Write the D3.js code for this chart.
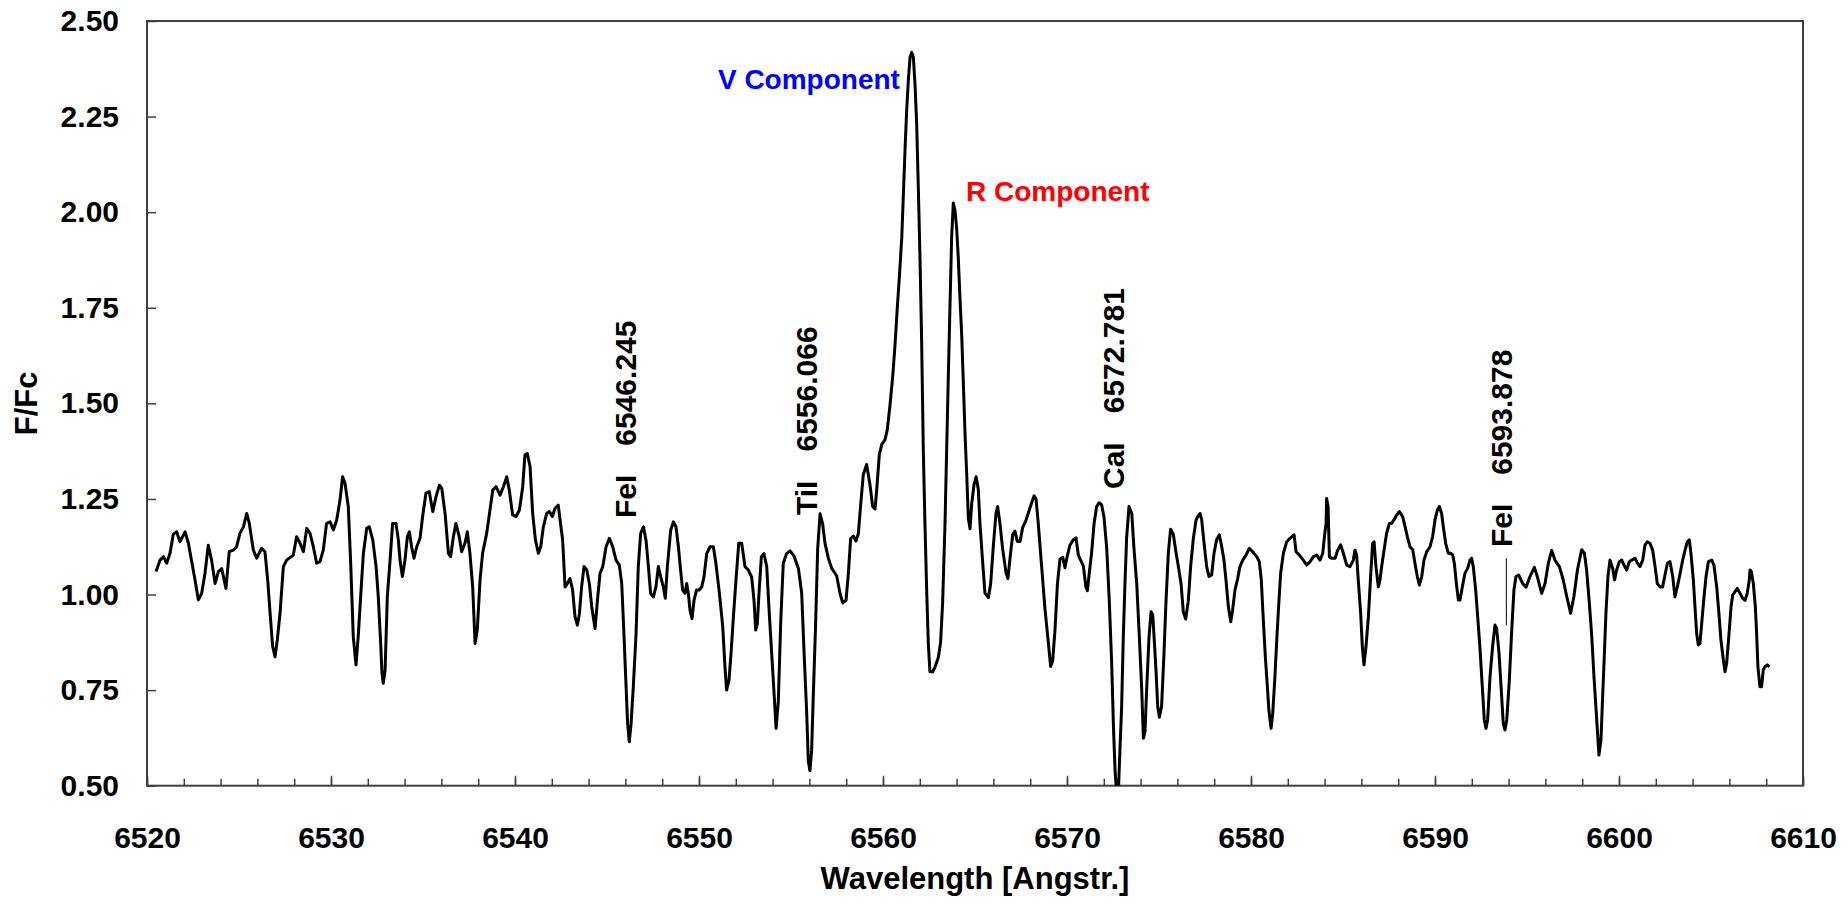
<!DOCTYPE html>
<html><head><meta charset="utf-8">
<script src="https://cdn.jsdelivr.net/npm/d3@7"></script>
<style>
body{margin:0;background:#fff}
svg text{font-family:"Liberation Sans",Arial,sans-serif;font-weight:bold}
</style>
</head><body>
<svg id="chart" width="1848" height="917"></svg>
<script>
// ---- data ----
const wavelength = [
6520.49,6520.71,6520.89,6521.07,6521.25,6521.43,6521.61,6521.79,6522.07,6522.25,6522.43,6522.61,6522.79,6522.97,6523.15,6523.33,6523.51,6523.70,6523.88,6524.06,6524.29,6524.47,6524.69,6524.87,6525.05,6525.24,6525.42,6525.56,6525.78,6525.96,6526.23,6526.41,6526.56,6526.69,6526.83,6526.96,6527.08,6527.23,6527.41,6527.59,6527.95,6528.13,6528.32,6528.50,6528.68,6528.86,6529.04,6529.22,6529.40,6529.58,6529.76,6529.95,6530.13,6530.31,6530.49,6530.63,6530.76,6530.94,6531.07,6531.21,6531.36,
6531.49,6531.61,6531.76,6531.94,6532.08,6532.27,6532.45,6532.57,6532.70,6532.77,6532.84,6532.94,6533.06,6533.21,6533.35,6533.53,6533.66,6533.75,6533.88,6534.02,6534.15,6534.26,6534.38,6534.51,6534.66,6534.84,6534.98,6535.16,6535.34,6535.53,6535.71,6535.89,6536.02,6536.20,6536.38,6536.50,6536.65,6536.79,6536.97,6537.10,6537.28,6537.41,6537.55,6537.70,6537.83,6537.95,6538.10,6538.24,6538.46,6538.64,6538.79,6538.97,6539.19,6539.37,6539.55,6539.69,6539.87,6540.06,6540.24,6540.42,6540.54,6540.67,6540.82,6540.96,6541.11,6541.27,6541.40,6541.54,6541.72,6541.87,6542.03,6542.17,6542.35,
6542.59,6542.72,6542.85,6542.99,6543.13,6543.26,6543.39,6543.50,6543.62,6543.75,6543.90,6544.04,6544.17,6544.35,6544.48,6544.62,6544.77,6544.95,6545.13,6545.31,6545.49,6545.67,6545.80,6545.92,6546.03,6546.12,6546.21,6546.31,6546.43,6546.58,6546.70,6546.83,6546.98,6547.12,6547.25,6547.37,6547.52,6547.66,6547.79,6547.92,6548.06,6548.17,6548.28,6548.46,6548.61,6548.75,6548.88,6549.00,6549.11,6549.24,6549.33,6549.42,6549.51,6549.62,6549.73,6549.87,6550.02,6550.15,6550.27,6550.42,6550.60,6550.78,6550.92,6551.11,6551.29,6551.41,6551.50,6551.63,6551.74,6551.87,6552.01,6552.16,6552.32,6552.50,6552.68,6552.86,6552.99,6553.08,6553.17,6553.26,6553.39,6553.53,6553.68,6553.82,6553.95,6554.08,6554.19,
6554.31,6554.44,6554.58,6554.76,6554.95,6555.16,6555.40,6555.58,6555.71,6555.85,6555.94,6556.03,6556.12,6556.21,6556.34,6556.45,6556.58,6556.72,6556.85,6557.03,6557.21,6557.48,6557.66,6557.81,6557.99,6558.12,6558.24,6558.39,6558.53,6558.66,6558.79,6558.93,6559.11,6559.29,6559.44,6559.57,6559.66,6559.80,6559.93,6560.11,6560.23,6560.38,6560.53,6560.65,6560.78,6560.89,6561.02,6561.11,6561.20,6561.29,6561.38,6561.47,6561.56,6561.65,6561.74,6561.83,6561.92,6562.01,6562.10,6562.19,6562.28,6562.37,6562.46,6562.55,6562.70,6562.83,6563.01,6563.13,6563.24,6563.37,6563.46,6563.55,6563.64,6563.73,6563.82,6563.91,6564.00,6564.09,6564.18,6564.28,6564.37,6564.46,6564.55,6564.64,6564.73,6564.82,6564.95,6565.06,6565.18,6565.27,6565.42,6565.54,
6565.73,6565.85,6566.00,6566.14,6566.23,6566.36,6566.50,6566.69,6566.79,6566.90,6567.05,6567.17,6567.30,6567.45,6567.59,6567.77,6567.95,6568.08,6568.21,6568.32,6568.44,6568.62,6568.80,6568.99,6569.11,6569.22,6569.35,6569.48,6569.62,6569.77,6569.89,6570.02,6570.16,6570.34,6570.49,6570.62,6570.76,6570.89,6571.03,6571.11,6571.21,6571.34,6571.47,6571.61,6571.74,6571.88,6572.01,6572.16,6572.30,6572.43,6572.52,6572.61,6572.70,6572.79,6572.88,6572.97,6573.06,6573.15,6573.24,6573.37,6573.52,6573.64,6573.79,6573.93,6574.06,6574.15,6574.24,6574.33,6574.46,6574.57,6574.66,6574.73,6574.84,6574.93,6575.02,6575.14,6575.27,6575.38,6575.51,6575.63,6575.78,6575.92,6576.05,6576.20,6576.32,6576.45,6576.59,6576.72,6576.87,6577.01,6577.14,
6577.23,6577.32,6577.45,6577.59,6577.72,6577.86,6577.99,6578.13,6578.28,6578.41,6578.53,6578.64,6578.77,6578.90,6579.00,6579.13,6579.26,6579.40,6579.55,6579.73,6579.91,6580.09,6580.31,6580.45,6580.56,6580.67,6580.78,6580.89,6580.97,6581.09,6581.18,6581.29,6581.40,6581.50,6581.61,6581.76,6581.94,6582.12,6582.34,6582.45,6582.63,6582.84,6583.03,6583.21,6583.39,6583.57,6583.75,6583.90,6583.99,6584.08,6584.11,6584.19,6584.26,6584.38,6584.57,6584.71,6584.87,6585.02,6585.20,6585.38,6585.56,6585.65,6585.74,6585.83,6585.96,6586.05,6586.14,6586.25,6586.38,6586.50,6586.61,6586.69,6586.79,6586.92,6587.01,6587.10,6587.23,6587.37,6587.52,6587.64,6587.77,6587.92,6588.06,
6588.24,6588.37,6588.50,6588.64,6588.79,6588.91,6589.04,6589.15,6589.28,6589.40,6589.55,6589.73,6589.87,6590.00,6590.13,6590.24,6590.36,6590.45,6590.58,6590.72,6590.85,6590.96,6591.05,6591.18,6591.27,6591.36,6591.49,6591.63,6591.78,6591.90,6591.99,6592.08,6592.21,6592.32,6592.45,6592.57,6592.68,6592.77,6592.86,6592.99,6593.13,6593.26,6593.35,6593.48,6593.59,6593.71,6593.80,6593.90,6594.04,6594.17,6594.29,6594.40,6594.55,6594.76,6594.95,6595.16,6595.40,6595.56,6595.80,6595.98,6596.16,6596.34,6596.52,6596.76,6596.97,6597.16,6597.37,6597.55,6597.74,6597.97,6598.12,6598.24,6598.39,6598.52,6598.64,6598.79,6598.91,6599.02,6599.11,6599.20,6599.29,6599.40,
6599.51,6599.66,6599.76,6599.87,6600.02,6600.15,6600.27,6600.42,6600.56,6600.69,6600.87,6601.00,6601.14,6601.29,6601.41,6601.54,6601.68,6601.83,6601.96,6602.08,6602.23,6602.37,6602.50,6602.63,6602.77,6602.92,6603.04,6603.17,6603.32,6603.46,6603.59,6603.71,6603.82,6603.91,6604.04,6604.13,6604.22,6604.31,6604.40,6604.51,6604.62,6604.73,6604.86,6605.04,6605.16,6605.31,6605.43,6605.54,6605.67,6605.76,6605.85,6605.98,6606.09,6606.18,6606.30,6606.43,6606.58,6606.72,6606.85,6606.97,6607.08,6607.12,6607.19,6607.30,6607.41,6607.48,6607.55,6607.66,6607.75,6607.84,6607.93,6608.06,6608.17
];
const flux = [
1.060,1.090,1.099,1.082,1.108,1.158,1.164,1.138,1.164,1.134,1.086,1.038,0.986,1.003,1.055,1.129,1.090,1.029,1.060,1.068,1.016,1.112,1.116,1.125,1.160,1.177,1.212,1.186,1.116,1.095,1.121,1.112,1.038,0.951,0.864,0.837,0.881,0.951,1.073,1.090,1.103,1.151,1.134,1.112,1.173,1.160,1.125,1.082,1.086,1.116,1.186,1.190,1.169,1.195,1.247,1.308,1.291,1.230,1.082,0.890,0.816,
0.898,0.994,1.108,1.173,1.177,1.143,1.073,0.994,0.872,0.794,0.768,0.802,0.994,1.090,1.186,1.186,1.143,1.090,1.047,1.090,1.151,1.164,1.125,1.095,1.125,1.147,1.204,1.265,1.269,1.217,1.256,1.286,1.278,1.212,1.108,1.099,1.151,1.186,1.151,1.112,1.134,1.164,1.108,1.020,0.872,0.907,1.038,1.108,1.160,1.221,1.273,1.282,1.260,1.282,1.308,1.273,1.208,1.204,1.221,1.282,1.365,1.369,1.334,1.212,1.143,1.108,1.125,1.177,1.212,1.217,1.204,1.225,1.234,
1.142,1.020,1.029,1.042,1.012,0.942,0.920,0.950,1.020,1.073,1.064,1.029,0.968,0.911,0.985,1.055,1.073,1.125,1.147,1.125,1.090,1.077,1.029,0.898,0.767,0.663,0.615,0.663,0.759,0.898,1.073,1.160,1.177,1.142,1.073,1.003,0.994,1.020,1.073,1.046,1.020,0.990,1.073,1.168,1.190,1.177,1.125,1.064,1.012,1.003,1.029,1.003,0.959,0.937,0.985,1.012,1.012,1.020,1.046,1.107,1.125,1.125,1.081,1.003,0.916,0.811,0.750,0.776,0.846,0.942,1.038,1.134,1.134,1.073,1.064,1.046,0.985,0.907,0.924,1.003,1.099,1.107,1.073,0.950,0.846,0.741,0.650,
0.720,0.927,1.082,1.107,1.114,1.101,1.069,1.004,0.849,0.694,0.565,0.539,0.591,0.733,0.927,1.120,1.211,1.185,1.133,1.095,1.069,1.049,1.004,0.978,0.985,1.056,1.146,1.153,1.140,1.159,1.237,1.314,1.340,1.288,1.230,1.224,1.275,1.366,1.392,1.405,1.430,1.495,1.572,1.650,1.753,1.831,1.934,2.050,2.167,2.270,2.347,2.405,2.418,2.405,2.334,2.231,2.063,1.882,1.663,1.379,1.185,1.017,0.875,0.798,0.798,0.811,0.836,0.875,0.978,1.185,1.379,1.572,1.753,1.934,2.024,2.005,1.960,1.882,1.779,1.676,1.547,1.418,1.314,1.198,1.172,1.237,1.288,1.308,1.275,1.185,1.082,1.004,
0.992,1.028,1.129,1.212,1.230,1.185,1.120,1.056,1.042,1.093,1.157,1.166,1.139,1.139,1.175,1.194,1.221,1.240,1.258,1.249,1.185,1.074,0.964,0.872,0.812,0.826,0.909,1.028,1.093,1.097,1.070,1.102,1.129,1.143,1.148,1.102,1.088,1.074,1.019,1.010,1.056,1.111,1.185,1.230,1.240,1.235,1.203,1.120,0.982,0.817,0.661,0.541,0.480,0.480,0.597,0.707,0.891,1.028,1.148,1.230,1.212,1.120,1.028,0.891,0.753,0.624,0.642,0.753,0.891,0.955,0.946,0.891,0.799,0.707,0.679,0.707,0.845,0.982,1.111,1.171,1.157,1.111,1.074,1.028,0.955,0.936,0.982,1.074,1.148,1.194,1.207,
1.212,1.195,1.134,1.073,1.047,1.051,1.108,1.143,1.156,1.125,1.090,1.038,0.968,0.929,0.959,1.012,1.038,1.073,1.090,1.103,1.121,1.112,1.099,1.086,1.038,0.933,0.837,0.759,0.698,0.650,0.689,0.776,0.881,0.968,1.055,1.108,1.138,1.147,1.156,1.112,1.103,1.090,1.077,1.086,1.099,1.103,1.090,1.108,1.151,1.186,1.251,1.230,1.099,1.095,1.095,1.116,1.130,1.108,1.077,1.073,1.090,1.116,1.103,1.038,0.951,0.864,0.816,0.864,0.942,1.047,1.134,1.138,1.073,1.020,1.038,1.073,1.116,1.160,1.186,1.186,1.195,1.208,1.217,
1.204,1.178,1.151,1.125,1.117,1.082,1.047,1.025,1.047,1.090,1.112,1.125,1.151,1.195,1.221,1.230,1.212,1.178,1.134,1.108,1.108,1.104,1.082,1.021,0.986,0.986,1.021,1.056,1.069,1.090,1.095,1.073,1.012,0.942,0.855,0.759,0.672,0.650,0.672,0.785,0.864,0.920,0.912,0.846,0.759,0.663,0.646,0.672,0.777,0.907,1.012,1.047,1.051,1.029,1.019,1.047,1.071,1.047,1.003,1.029,1.082,1.115,1.090,1.073,1.038,0.995,0.951,0.995,1.064,1.117,1.108,1.064,0.977,0.890,0.785,0.672,0.580,0.620,0.733,0.838,0.951,1.047,
1.090,1.068,1.038,1.064,1.086,1.090,1.077,1.064,1.086,1.090,1.095,1.082,1.073,1.090,1.129,1.138,1.134,1.116,1.073,1.029,1.020,1.020,1.051,1.082,1.086,1.047,0.994,1.020,1.055,1.090,1.116,1.138,1.143,1.108,1.038,0.968,0.898,0.868,0.872,0.933,0.994,1.047,1.086,1.090,1.077,1.020,0.951,0.881,0.829,0.798,0.820,0.898,0.968,0.999,1.007,1.016,1.003,0.990,0.985,1.003,1.038,1.064,1.060,1.029,0.968,0.898,0.811,0.759,0.759,0.803,0.811,0.816,0.811
];
const xDomain = [6520, 6610];
const yDomain = [0.5, 2.5];
const xMajorTicks = [6520, 6530, 6540, 6550, 6560, 6570, 6580, 6590, 6600, 6610];
const xMinorTicks = d3.range(6520, 6611, 2);
const yTicks = [0.50, 0.75, 1.00, 1.25, 1.50, 1.75, 2.00, 2.25, 2.50];
const lineIds = ["FeI", "TiI", "CaI", "FeI"];
const lineWavelengths = [6546.245, 6556.066, 6572.781, 6593.878];
const lineLabelLevels = [1.200, 1.208, 1.276, 1.124];
const markerLine = {wavelength: 6593.878, from: 0.92, to: 1.095};
const componentNames = ["V Component", "R Component"];
const componentAt = [[6560.92, 2.322], [6564.51, 2.029]];
const componentColors = ["#0000ff", "#ff0000"];
const xTitle = "Wavelength [Angstr.]";
const yTitle = "F/Fc";

// ---- layout ----
const L = 147, R = 1803, T = 21, B = 785.7;
const svg = d3.select("#chart");
svg.append("rect").attr("width", 1848).attr("height", 917).attr("fill", "#fff");
const x = d3.scaleLinear().domain(xDomain).range([L, R]);
const y = d3.scaleLinear().domain(yDomain).range([B, T]);
const axisColor = "#404040";

svg.append("defs").append("clipPath").attr("id", "plotClip")
  .append("rect").attr("x", L).attr("y", T).attr("width", R - L).attr("height", B - T);

// minor x ticks
const gxm = svg.append("g").attr("transform", `translate(0,${B})`)
  .call(d3.axisBottom(x).tickValues(xMinorTicks).tickSize(-7).tickFormat(""));
gxm.select(".domain").remove();
gxm.selectAll("line").attr("stroke", axisColor).attr("stroke-width", 1.5);

// major x ticks + labels
const gx = svg.append("g").attr("transform", `translate(0,${B})`)
  .call(d3.axisBottom(x).tickValues(xMajorTicks).tickSize(-10).tickPadding(41).tickFormat(d3.format("d")));
gx.select(".domain").remove();
gx.selectAll("line").attr("stroke", axisColor).attr("stroke-width", 1.5);
gx.selectAll("text").attr("fill", "#000").style("font-size", "30px")
  .style("font-family", '"Liberation Sans",Arial,sans-serif').style("font-weight", "bold");

// y ticks + labels
const gy = svg.append("g").attr("transform", `translate(${L},0)`)
  .call(d3.axisLeft(y).tickValues(yTicks).tickSize(-9).tickPadding(28).tickFormat(d3.format(".2f")));
gy.select(".domain").remove();
gy.selectAll("line").attr("stroke", axisColor).attr("stroke-width", 1.5);
gy.selectAll("text").attr("fill", "#000").style("font-size", "30px")
  .style("font-family", '"Liberation Sans",Arial,sans-serif').style("font-weight", "bold");

// frame
svg.append("rect").attr("x", L).attr("y", T).attr("width", R - L).attr("height", B - T)
  .attr("fill", "none").attr("stroke", axisColor).attr("stroke-width", 2);

// spectrum
const pts = wavelength.map((w, i) => [w, flux[i]]);
svg.append("path").datum(pts)
  .attr("clip-path", "url(#plotClip)")
  .attr("fill", "none").attr("stroke", "#000").attr("stroke-width", 3)
  .attr("stroke-linejoin", "round")
  .attr("d", d3.line().x(d => x(d[0])).y(d => y(d[1])));

// marker line
svg.append("line")
  .attr("x1", x(markerLine.wavelength)).attr("x2", x(markerLine.wavelength))
  .attr("y1", y(markerLine.to)).attr("y2", y(markerLine.from))
  .attr("stroke", "#000").attr("stroke-width", 1);

// line identifications (rotated)
lineIds.forEach((id, i) => {
  const t = svg.append("text")
    .attr("transform", `translate(${x(lineWavelengths[i]) + 6},${y(lineLabelLevels[i])}) rotate(-90)`)
    .attr("fill", "#000").style("font-size", "30px");
  t.append("tspan").text(id);
  t.append("tspan").attr("dx", 29).text(lineWavelengths[i].toFixed(3));
});

// components
componentNames.forEach((name, i) => {
  svg.append("text")
    .attr("x", x(componentAt[i][0])).attr("y", y(componentAt[i][1]))
    .attr("text-anchor", i === 0 ? "end" : "start")
    .attr("fill", componentColors[i]).style("font-size", "28px")
    .text(name);
});

// axis titles
svg.append("text").attr("x", (L + R) / 2).attr("y", 889).attr("text-anchor", "middle")
  .attr("fill", "#000").style("font-size", "31px").text(xTitle);
svg.append("text").attr("transform", `translate(37,${(T + B) / 2}) rotate(-90)`)
  .attr("text-anchor", "middle").attr("fill", "#000").style("font-size", "31px").text(yTitle);
</script>
</body></html>
